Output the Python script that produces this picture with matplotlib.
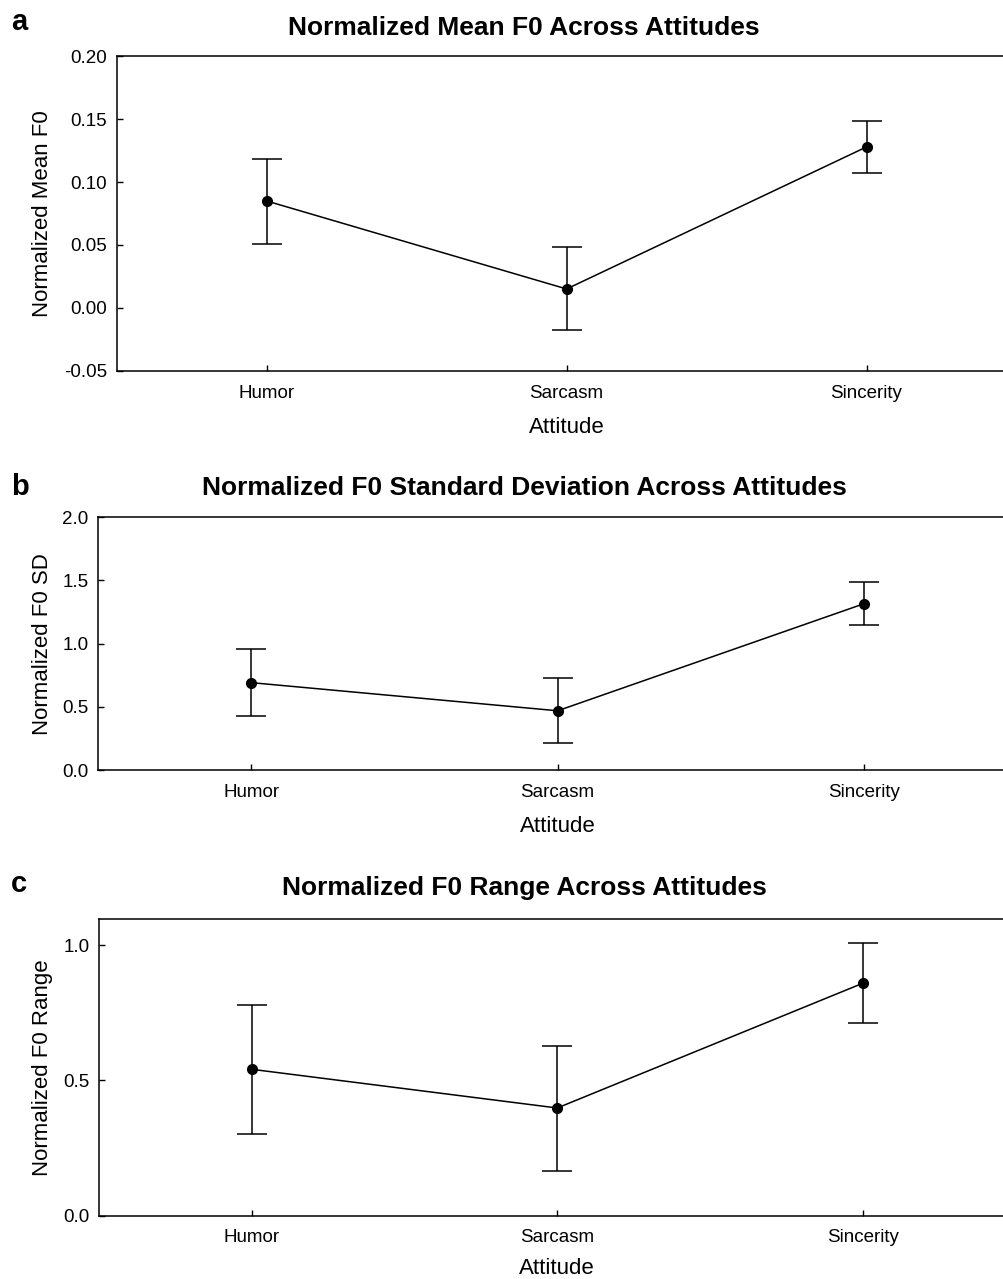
import numpy as np
import matplotlib
matplotlib.use('Agg')
import matplotlib.pyplot as plt

plt.rcParams['font.family'] = ['Liberation Sans', 'DejaVu Sans']

categories = ['Humor', 'Sarcasm', 'Sincerity']

# panel a
mean_f0 = [0.085, 0.015, 0.128]
mean_f0_hi = [0.118, 0.048, 0.149]
mean_f0_lo = [0.051, -0.018, 0.107]

# panel b
sd_f0 = [0.692, 0.470, 1.315]
sd_f0_hi = [0.959, 0.731, 1.484]
sd_f0_lo = [0.425, 0.214, 1.149]

# panel c
range_f0 = [0.541, 0.398, 0.859]
range_f0_hi = [0.779, 0.629, 1.007]
range_f0_lo = [0.303, 0.165, 0.711]

W, H = 1004, 1279
fig = plt.figure(figsize=(W/100, H/100), dpi=100)

def px(x0, y0, x1, y1):
	# pixel box -> figure fraction [left, bottom, width, height]
	return [x0/W, 1-y1/H, (x1-x0)/W, (y1-y0)/H]

def panel(box, m, hi, lo, yticks, ylim, fmt, ylab, title, letter, title_y, letter_y, xlab_off=46):
	ax = fig.add_axes(px(*box))
	x = np.arange(len(categories))
	m = np.array(m); hi = np.array(hi); lo = np.array(lo)
	ax.errorbar(x, m, yerr=[m-lo, hi-m], fmt='-o', color='black', ms=7, lw=1.1,
		elinewidth=1.1, capsize=11, capthick=1.1, clip_on=False)
	ax.set_xlim(-0.5, 2.5)
	ax.set_ylim(*ylim)
	ax.set_xticks(x)
	ax.set_xticklabels(categories)
	ax.set_yticks(yticks)
	ax.set_yticklabels([fmt % v for v in yticks])
	ax.tick_params(direction='in', length=4, width=1, labelsize=13.5)
	ax.tick_params(axis='x', pad=10)
	ax.tick_params(axis='y', pad=7)
	for s in ax.spines.values():
		s.set_linewidth(1.1)
	ax.set_xlabel('Attitude', fontsize=16)
	ax.set_ylabel(ylab, fontsize=16)
	ax.xaxis.set_label_coords(0.5, -xlab_off/(box[3]-box[1]))
	ax.yaxis.set_label_coords((53-box[0])/(box[2]-box[0]), 0.5)
	fig.text(524/W, 1-title_y/H, title, fontsize=19, fontweight='bold', ha='center', va='center')
	fig.text(11/W, 1-letter_y/H, letter, fontsize=21, fontweight='bold', ha='left', va='center')
	return ax

panel((116.7, 56.4, 1016.5, 370.7), mean_f0, mean_f0_hi, mean_f0_lo,
	[-0.05, 0.0, 0.05, 0.10, 0.15, 0.20], (-0.05, 0.20), '%.2f',
	'Normalized Mean F0', 'Normalized Mean F0 Across Attitudes', 'a', 28, 22)
panel((98.3, 517, 1017, 770.3), sd_f0, sd_f0_hi, sd_f0_lo,
	[0.0, 0.5, 1.0, 1.5, 2.0], (0, 2.0), '%.1f',
	'Normalized F0 SD', 'Normalized F0 Standard Deviation Across Attitudes', 'b', 488, 487)
panel((99.3, 919, 1015.2, 1215.6), range_f0, range_f0_hi, range_f0_lo,
	[0.0, 0.5, 1.0], (0, 1.097), '%.1f',
	'Normalized F0 Range', 'Normalized F0 Range Across Attitudes', 'c', 888, 884, xlab_off=42)

fig.savefig('out.png', dpi=100)
